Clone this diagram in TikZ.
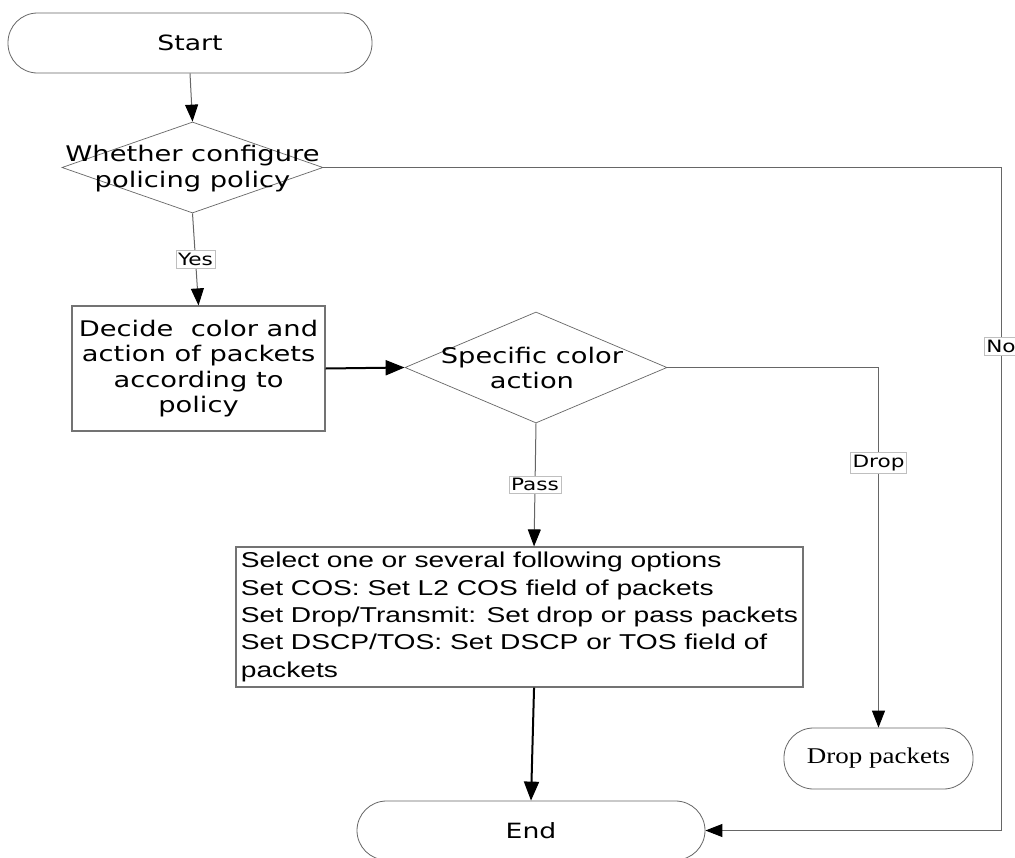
\documentclass[tikz,border=0pt]{standalone}
\usepackage{fontspec}
\usetikzlibrary{arrows.meta,shapes.geometric,calc}
\newfontfamily\djs[FakeStretch=1.27]{DejaVu Sans}
\newfontfamily\lss[FakeStretch=1.31]{Liberation Sans}
\newfontfamily\lsr[FakeStretch=1.2]{Liberation Serif}
\begin{document}
\begin{tikzpicture}[x=1pt,y=-1pt,
  term/.style={draw=black!60, line width=0.8pt, rounded corners=29.5pt, minimum height=60pt, inner sep=0pt, font=\djs\fontsize{21}{25}\selectfont},
  dec/.style={diamond, draw=black!60, line width=0.7pt, inner sep=0pt},
  dectext/.style={font=\djs\fontsize{21.5}{26}\selectfont, align=center},
  proc/.style={draw=black!55, line width=1.2pt, inner sep=0pt},
  lbl/.style={fill=white, draw=black!25, line width=0.5pt, inner xsep=2pt, inner ysep=2.5pt, font=\djs\fontsize{17}{20}\selectfont},
  thinarrow/.style={draw=black!60, line width=1pt, -{Triangle[length=17pt,width=13pt,color=black]}},
  thickarrow/.style={draw=black, line width=2pt, -{Triangle[length=19pt,width=15pt]}},
]
\useasboundingbox (0,0) rectangle (1015,857);
\fill[white] (0,0) rectangle (1015,857);
\clip (0,0) rectangle (1015,857);

\node[term, minimum width=364pt] (start) at (190,43) {Start};

\node[dec, minimum width=261pt, minimum height=91pt,
  label={[dectext, yshift=-1pt]center:Whether configure\\policing policy}] (d1) at (192.5,167.5) {};

\node[proc, minimum width=253pt, minimum height=125pt, align=center,
  font=\djs\fontsize{21.5}{25.5}\selectfont] (b1) at (198.5,368.5)
  {Decide\ \ color and\\action of packets\\according to\\policy};

\node[dec, minimum width=262pt, minimum height=111pt,
  label={[dectext, xshift=-4pt, font=\djs\fontsize{21.5}{25}\selectfont]center:Specific color\\action}] (d2) at (536,367.5) {};

\node[proc, minimum width=567pt, minimum height=140pt, align=left,
  font=\lss\fontsize{21.5}{27.3}\selectfont] (bb) at (519.5,617)
  {Select one or several following options\\
   Set COS: Set L2 COS field of packets\\
   Set Drop/Transmit: Set drop or pass packets\\
   Set DSCP/TOS: Set DSCP or TOS field of\\
   packets};

\node[term, minimum width=189pt, minimum height=61pt, font=\lsr\fontsize{22.5}{26}\selectfont] (drop) at (878.5,758.5) {Drop packets};

\node[term, minimum width=348pt, minimum height=59pt] (end) at (531,830.5) {End};

\coordinate (bbin) at ($(bb.north west)!0.5256!(bb.north east)$);
\coordinate (bbout) at ($(bb.south west)!0.5256!(bb.south east)$);
\coordinate (nocorner) at (1001,830.5);

\draw[thinarrow] (start.south) -- (d1.north);
\draw[thinarrow] (d1.south) -- node[lbl]{Yes} (b1.north);
\draw[thickarrow] (b1.east) -- (d2.west);
\draw[thinarrow] (d2.south) -- node[lbl]{Pass} (bbin);
\draw[thinarrow] (d2.east) -| node[lbl, pos=0.632]{Drop} (drop.north);
\draw[thickarrow] (bbout) -- (end.north);
\draw[thinarrow] (d1.east) -| node[lbl, pos=0.635]{No} (nocorner) -- (end.east);
\end{tikzpicture}
\end{document}
